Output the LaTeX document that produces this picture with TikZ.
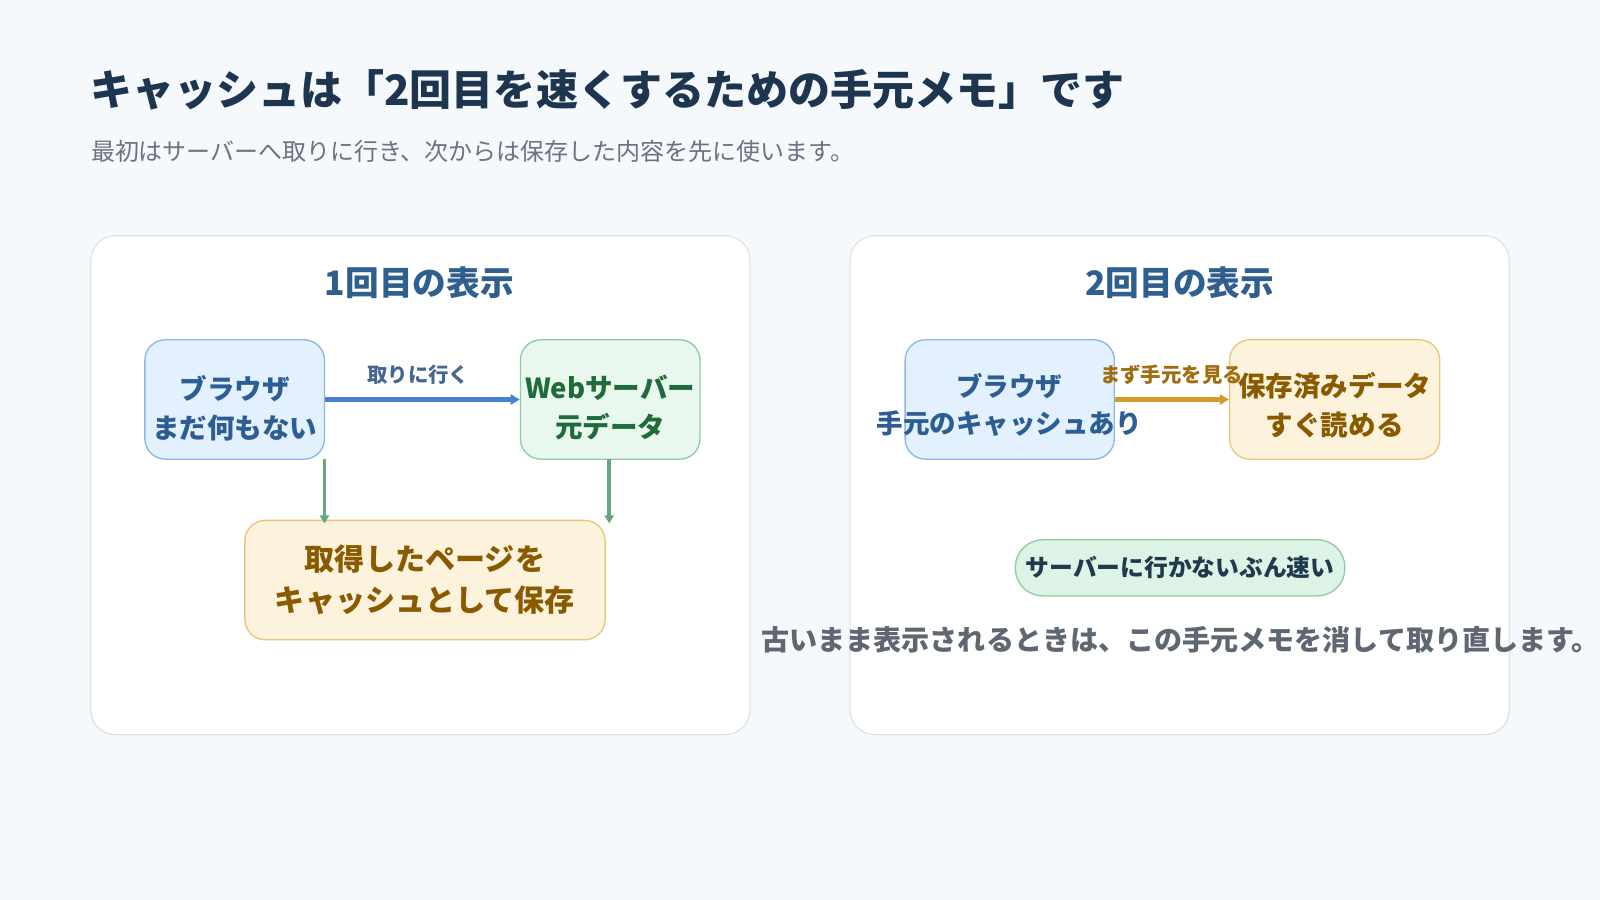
\documentclass[tikz,border=0pt]{standalone}
\usepackage{fontspec}
\setmainfont{Noto Sans CJK JP}
\usetikzlibrary{arrows.meta}
\definecolor{bg}{HTML}{F5F9FC}
\definecolor{panelline}{HTML}{DCE3EA}
\definecolor{titlec}{HTML}{1E3550}
\definecolor{subc}{HTML}{6B7280}
\definecolor{ptitle}{HTML}{2F5F8F}
\definecolor{bfill}{HTML}{E3F0FD}
\definecolor{bline}{HTML}{8DB6E3}
\definecolor{btext}{HTML}{2C5E93}
\definecolor{gfill}{HTML}{E8F8EE}
\definecolor{gline}{HTML}{90CBA5}
\definecolor{gtext}{HTML}{1F6B3A}
\definecolor{ofill}{HTML}{FDF3DC}
\definecolor{oline}{HTML}{E8C77A}
\definecolor{otext}{HTML}{8A5A00}
\definecolor{barrow}{HTML}{4A80D4}
\definecolor{blabel}{HTML}{46678F}
\definecolor{garrow}{HTML}{66A680}
\definecolor{oarrow}{HTML}{D49A2A}
\definecolor{olabel}{HTML}{A06D10}
\definecolor{pillfill}{HTML}{DDF3E5}
\definecolor{pilltext}{HTML}{1E3A4F}
\definecolor{footc}{HTML}{5F6772}
\tikzset{
  panel/.style={draw=panelline, line width=1.2pt, fill=white, rounded corners=24pt, inner sep=0pt},
  box/.style={line width=1.3pt, rounded corners=20pt, inner sep=0pt},
  bluebox/.style={box, draw=bline, fill=bfill},
  greenbox/.style={box, draw=gline, fill=gfill},
  orangebox/.style={box, draw=oline, fill=ofill},
  boxtext/.style={font=\fontsize{27}{38}\selectfont\bfseries, align=center, inner sep=0pt},
  ptitlestyle/.style={font=\fontsize{33}{38}\selectfont\bfseries, text=ptitle, inner sep=0pt},
  arrowlabel/.style={font=\fontsize{20}{24}\selectfont\bfseries, inner sep=0pt},
  conn/.style={line width=4pt, -{Triangle[length=9pt,width=10pt]}},
  gconn/.style={draw=garrow, line width=3.4pt, -{Triangle[length=8pt,width=9pt]}},
}
\begin{document}
\begin{tikzpicture}[x=1pt,y=-1pt]
\fill[bg] (0,0) rectangle (1568,882);
\useasboundingbox (0,0) rectangle (1568,882);

% title
\node[anchor=west, inner sep=0pt, text=titlec, font=\fontsize{41.2}{46}\selectfont\bfseries] (title) at (88,88) {キャッシュは「2回目を速くするための手元メモ」です};
\node[anchor=west, inner sep=0pt, text=subc, font=\fontsize{23.5}{27}\selectfont] (sub) at (89,148) {最初はサーバーへ取りに行き、次からは保存した内容を先に使います。};

% panels
\node[panel, minimum width=646pt, minimum height=489pt] (lp) at (412,475.5) {};
\node[panel, minimum width=646pt, minimum height=489pt] (rp) at (1156,475.5) {};

\node[ptitlestyle] (lt) at (411,277) {1回目の表示};
\node[ptitlestyle] (rt) at (1156,277) {2回目の表示};

% left panel boxes
\node[bluebox, minimum width=176pt, minimum height=117pt] (lb) at (230,391.5) {};
\node[boxtext, text=btext] (lbt) at (230,400) {ブラウザ\\まだ何もない};
\node[greenbox, minimum width=176pt, minimum height=117pt] (ws) at (598,391.5) {};
\node[boxtext, text=gtext] (wst) at (598,399.5) {Webサーバー\\元データ};
\node[orangebox, minimum width=353pt, minimum height=117pt] (cb) at (416.5,568.5) {};
\node[boxtext, text=otext, font=\fontsize{29.5}{40}\selectfont\bfseries] (cbt) at (cb) {取得したページを\\キャッシュとして保存};

\draw[conn, draw=barrow] (lb.east) -- (ws.west);
\node[arrowlabel, text=blabel] (l1) at (410,367) {取りに行く};

\coordinate (g1s) at (318,450);
\coordinate (g1e) at (318,513);
\coordinate (g2s) at (597,450);
\coordinate (g2e) at (597,513);
\draw[gconn] (g1s) -- (g1e);
\draw[gconn] (g2s) -- (g2e);

% right panel boxes
\node[bluebox, minimum width=205pt, minimum height=117pt] (rb) at (989.5,391.5) {};
\node[boxtext, text=btext, font=\fontsize{26}{36}\selectfont\bfseries] (rbt) at (989,397) {ブラウザ\\手元のキャッシュあり};
\node[orangebox, minimum width=206pt, minimum height=117pt] (sd) at (1308,391.5) {};
\node[boxtext, text=otext] (sdt) at (1308,397.5) {保存済みデータ\\すぐ読める};

\draw[conn, draw=oarrow] (rb.east) -- (sd.west);
\node[arrowlabel, text=olabel] (l2) at (1148,367) {まず手元を見る};

\node[draw=gline, fill=pillfill, line width=1.3pt, rounded corners=27pt, minimum width=323pt, minimum height=55pt, inner sep=0pt] (pill) at (1156.5,556.5) {};
\node[font=\fontsize{23.3}{27}\selectfont\bfseries, text=pilltext, inner sep=0pt] (pillt) at (pill) {サーバーに行かないぶん速い};

\node[font=\fontsize{27.5}{31}\selectfont\bfseries, text=footc, inner sep=0pt] (foot) at (1157,627) {古いまま表示されるときは、この手元メモを消して取り直します。};
\end{tikzpicture}
\end{document}
